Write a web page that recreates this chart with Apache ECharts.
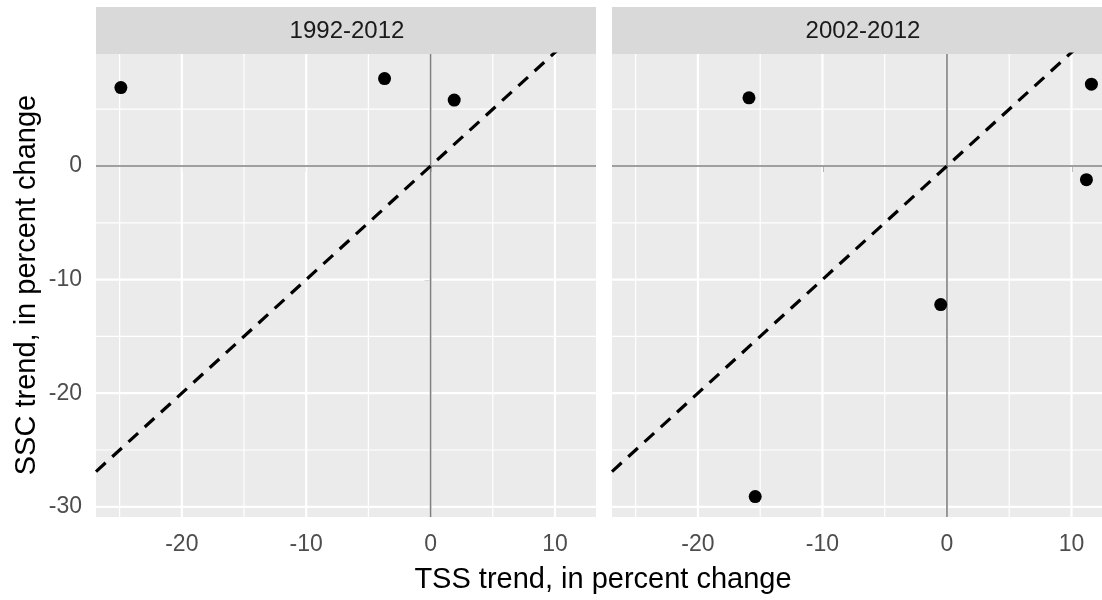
<!DOCTYPE html>
<html>
<head>
<meta charset="utf-8">
<script src="https://cdn.jsdelivr.net/npm/echarts@6/dist/echarts.min.js"></script>
<style>html,body{margin:0;padding:0;background:#fff}#c{width:1102px;height:600px}</style>
</head>
<body>
<div id="c"></div>
<script>
// ---- data ----
const panels = ['1992-2012', '2002-2012'];
const xTicks = [-20, -10, 0, 10];
const xMinor = [-25, -15, -5, 5];
const yTicks = [-30, -20, -10, 0];
const yMinor = [-25, -15, -5, 5];
const tss1992 = [-24.9, -3.7, 1.9];
const ssc1992 = [6.9, 7.7, 5.8];
const tss2002 = [-15.9, 11.6, 11.2, -0.5, -15.4];
const ssc2002 = [6.0, 7.2, -1.2, -12.2, -29.1];
const identityEnds = [-26.9, 13.3];   // 1:1 line, y = x
const zeroRef = [0];

const xTitle = 'TSS trend, in percent change';
const yTitle = 'SSC trend, in percent change';

// ---- layout ----
const FONT = '"Liberation Sans", Arial, sans-serif';
const xMin = -26.9, xMaxL = 13.3, xMaxR = 12.45;
const yMin = -30.9, yMax = 9.86;
const grids = [
  {left: 96, top: 54, width: 500, height: 463},
  {left: 612, top: 54, width: 490, height: 463}
];

function vLines(idx, vals, color, width, z) {
  return {
    type: 'custom', xAxisIndex: idx, yAxisIndex: idx, silent: true, z: z,
    data: vals.map(v => [v, 0]),
    renderItem: (params, api) => {
      const cs = params.coordSys;
      const x = api.coord([api.value(0), 0])[0];
      return {type: 'line', shape: {x1: x, y1: cs.y, x2: x, y2: cs.y + cs.height},
              style: {stroke: color, lineWidth: width}};
    }
  };
}
function hLines(idx, vals, color, width, z) {
  return {
    type: 'custom', xAxisIndex: idx, yAxisIndex: idx, silent: true, z: z,
    data: vals.map(v => [0, v]),
    renderItem: (params, api) => {
      const cs = params.coordSys;
      const y = api.coord([0, api.value(1)])[1];
      return {type: 'line', shape: {x1: cs.x, y1: y, x2: cs.x + cs.width, y2: y},
              style: {stroke: color, lineWidth: width}};
    }
  };
}

const series = [];
const pts = [[tss1992, ssc1992], [tss2002, ssc2002]];
[0, 1].forEach(i => {
  series.push(vLines(i, xMinor, '#ffffff', 1.2, 1));
  series.push(hLines(i, yMinor, '#ffffff', 1.2, 1));
  series.push(vLines(i, xTicks, '#ffffff', 2.2, 1));
  series.push(hLines(i, yTicks, '#ffffff', 2.2, 1));
  series.push(vLines(i, zeroRef, '#7f7f7f', 1.6, 2));
  series.push(hLines(i, zeroRef, '#7f7f7f', 1.6, 2));
  series.push({
    type: 'line', xAxisIndex: i, yAxisIndex: i, silent: true, z: 3, clip: true,
    symbol: 'none',
    data: identityEnds.map(v => [v, v]),
    lineStyle: {color: '#000', width: 3.2, type: [13, 9]}
  });
  series.push({
    type: 'scatter', xAxisIndex: i, yAxisIndex: i, z: 5, symbolSize: 13,
    itemStyle: {color: '#000', opacity: 1},
    data: pts[i][0].map((x, k) => [x, pts[i][1][k]])
  });
});

const option = {
  backgroundColor: '#ffffff',
  animation: false,
  grid: grids.map(g => Object.assign({show: true, backgroundColor: '#EBEBEB', borderWidth: 0, containLabel: false}, g)),
  xAxis: [0, 1].map(i => ({
    type: 'value', gridIndex: i, min: xMin, max: i === 0 ? xMaxL : xMaxR,
    axisLine: {show: false},
    axisTick: {show: true, customValues: xTicks, length: 6, lineStyle: {color: '#333333', width: 1.5}},
    axisLabel: {show: true, customValues: xTicks, fontSize: 23, fontFamily: FONT, color: '#4D4D4D', margin: 16},
    splitLine: {show: false}
  })),
  yAxis: [0, 1].map(i => ({
    type: 'value', gridIndex: i, min: yMin, max: yMax,
    axisLine: {show: false},
    axisTick: {show: i === 0, customValues: yTicks, length: 6, lineStyle: {color: '#333333', width: 1.5}},
    axisLabel: {show: i === 0, customValues: yTicks, fontSize: 23, fontFamily: FONT, color: '#4D4D4D', margin: 14},
    splitLine: {show: false}
  })),
  graphic: [
    {type: 'rect', shape: {x: 96, y: 7, width: 500, height: 47}, style: {fill: '#D9D9D9'}, silent: true},
    {type: 'rect', shape: {x: 612, y: 7, width: 490, height: 47}, style: {fill: '#D9D9D9'}, silent: true},
    {type: 'text', x: 347, y: 31, style: {text: panels[0], align: 'center', verticalAlign: 'middle', font: '24px ' + FONT, fill: '#1A1A1A'}},
    {type: 'text', x: 863, y: 31, style: {text: panels[1], align: 'center', verticalAlign: 'middle', font: '24px ' + FONT, fill: '#1A1A1A'}},
    {type: 'text', x: 603, y: 580, style: {text: xTitle, align: 'center', verticalAlign: 'middle', font: '29px ' + FONT, fill: '#000'}},
    {type: 'text', x: 27, y: 285, rotation: Math.PI / 2, style: {text: yTitle, align: 'center', verticalAlign: 'middle', font: '29px ' + FONT, fill: '#000'}}
  ],
  series: series
};

const chart = echarts.init(document.getElementById('c'), null, {renderer: 'canvas'});
chart.setOption(option);
</script>
</body>
</html>
